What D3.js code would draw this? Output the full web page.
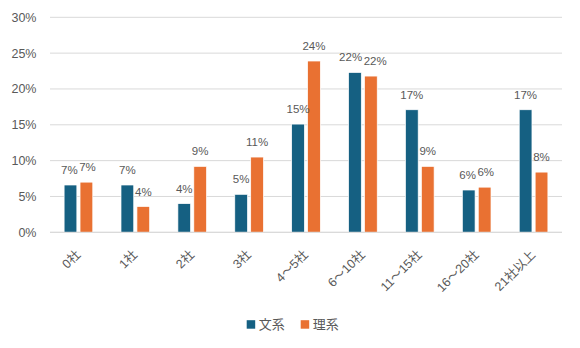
<!DOCTYPE html>
<html><head><meta charset="utf-8">
<script src="https://cdn.jsdelivr.net/npm/d3@7"></script>
<style>
html,body{margin:0;padding:0;background:#fff;}
svg{display:block;font-family:"Liberation Sans","Noto Sans CJK JP",sans-serif;}
</style></head>
<body><svg id="chart" width="580" height="348"></svg>
<script>
// Number of companies applied to, share of students by major
const categories = ["0社","1社","2社","3社","4～5社","6～10社","11～15社","16～20社","21社以上"];
const seriesNames = ["文系","理系"];
const bunkei = [0.066, 0.066, 0.040, 0.053, 0.151, 0.223, 0.171, 0.059, 0.171];
const rikei  = [0.070, 0.036, 0.092, 0.105, 0.239, 0.218, 0.092, 0.063, 0.084];
const yTicks = [0, 0.05, 0.10, 0.15, 0.20, 0.25, 0.30];
const colors = ["#156082", "#E97132"];

const svg = d3.select("#chart");
const plotLeft = 50, plotRight = 562, plotTop = 17.3, plotBottom = 232.3;
const textColor = "#595959";

const x0 = d3.scaleBand().domain(categories).range([plotLeft, plotRight])
  .paddingInner(0.496).paddingOuter(0.248);
const x1 = d3.scaleBand().domain(seriesNames).range([0, x0.bandwidth()])
  .paddingInner(0.2).paddingOuter(0);
const y = d3.scaleLinear().domain([0, 0.30]).range([plotBottom, plotTop]);

// gridlines
svg.append("g").selectAll("line").data(yTicks).join("line")
  .attr("x1", plotLeft).attr("x2", plotRight)
  .attr("y1", d => y(d)).attr("y2", d => y(d))
  .attr("stroke", "#d9d9d9").attr("stroke-width", 1);

// y axis labels
const yAxis = d3.axisLeft(y).tickValues(yTicks).tickFormat(d3.format(".0%")).tickSize(0).tickPadding(0);
const ga = svg.append("g").attr("transform", `translate(${plotLeft - 13.5},0)`).call(yAxis);
ga.select(".domain").remove();
ga.selectAll("text").attr("fill", textColor).style("font-size", "12.5px")
  .style("font-family", '"Liberation Sans","Noto Sans CJK JP",sans-serif');

const rows = categories.map((c, i) => ({cat: c, vals: [bunkei[i], rikei[i]]}));
const fmt = v => Math.round(v * 100) + "%";

const groups = svg.append("g").selectAll("g").data(rows).join("g")
  .attr("transform", d => `translate(${x0(d.cat)},0)`);

groups.selectAll("rect").data(d => d.vals.map((v, j) => ({v, s: seriesNames[j], j}))).join("rect")
  .attr("x", d => x1(d.s)).attr("width", x1.bandwidth())
  .attr("y", d => y(d.v)).attr("height", d => y(0) - y(d.v))
  .attr("fill", d => colors[d.j]).attr("stroke", "#fff").attr("stroke-width", 0.7);

// value labels above each bar
groups.each(function () {
  const labels = d3.select(this).selectAll("text")
    .data(d => d.vals.map((v, j) => ({v, s: seriesNames[j], j}))).join("text")
    .attr("x", d => x1(d.s) + x1.bandwidth() / 2)
    .attr("y", d => y(d.v) - 11)
    .attr("text-anchor", "middle")
    .attr("fill", textColor).style("font-size", "11.5px")
    .text(d => fmt(d.v));
  // push the pair apart when they would collide at similar heights
  const nodes = labels.nodes();
  const a = nodes[0].getBBox(), b = nodes[1].getBBox();
  const vertical = a.y < b.y + b.height && b.y < a.y + a.height;
  const overlap = a.x + a.width + 1.5 - b.x;
  if (vertical && overlap > 0) {
    d3.select(nodes[0]).attr("x", +nodes[0].getAttribute("x") - overlap / 2);
    d3.select(nodes[1]).attr("x", +nodes[1].getAttribute("x") + overlap / 2);
  }
});

// x axis line
svg.append("line").attr("x1", plotLeft).attr("x2", plotRight).attr("y1", plotBottom).attr("y2", plotBottom)
  .attr("stroke", "#d9d9d9");

// rotated category labels
svg.append("g").selectAll("text").data(categories).join("text")
  .attr("transform", d => `translate(${x0(d) + x0.bandwidth() / 2 - 0.5},${plotBottom + 20}) rotate(-45)`)
  .attr("text-anchor", "end").attr("dy", "0.35em")
  .attr("fill", textColor).style("font-size", "12.5px")
  .text(d => d);

// legend
const legend = svg.append("g");
const legendX = [246.7, 300.7];
seriesNames.forEach((s, i) => {
  legend.append("rect").attr("x", legendX[i]).attr("y", 320.2).attr("width", 8.5).attr("height", 8.5)
    .attr("fill", colors[i]);
  legend.append("text").attr("x", legendX[i] + 12).attr("y", 324.5).attr("dy", "0.35em")
    .attr("fill", textColor).style("font-size", "13px").text(s);
});
</script></body></html>
